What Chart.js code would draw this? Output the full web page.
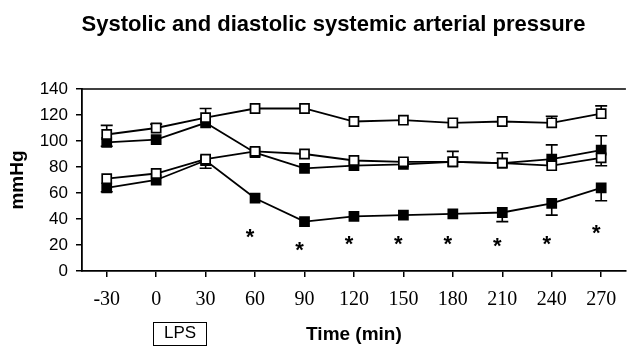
<!DOCTYPE html>
<html>
<head>
<meta charset="utf-8">
<script src="https://cdn.jsdelivr.net/npm/chart.js@4"></script>
<style>
  html, body { margin: 0; padding: 0; background: #fff; }
  #wrap { position: relative; width: 634px; height: 354px; }
  #titulo { position: absolute; left: 0; top: 11px; width: 667px; text-align: center;
            line-height: 22px; font: bold 22px "Liberation Sans", Arial, sans-serif; color: #000; }
  #lps { position: absolute; left: 153px; top: 322px; width: 52px; height: 22px;
         border: 1px solid #000; text-align: center; line-height: 22px;
         font: 17px "Liberation Sans", Arial, sans-serif; color: #000; }
</style>
</head>
<body>
<div id="wrap">
  <canvas id="grafico" width="634" height="354"></canvas>
  <div id="titulo">Systolic and diastolic systemic arterial pressure</div>
  <div id="lps">LPS</div>
</div>
<script>
const tempos = ['-30', '0', '30', '60', '90', '120', '150', '180', '210', '240', '270'];

// sistólica / diastólica, controle (aberto) e LPS (preenchido)
const sisControle = [105, 110, 118, 125, 125, 115, 116, 114, 115, 114, 121];
const sisLps      = [99, 101, 114, 91, 79, 81, 82, 84, 83, 86, 93];
const diaControle = [71, 75, 86, 92, 90, 85, 84, 84, 83, 81, 87];
const diaLps      = [64, 70, 85, 56, 38, 42, 43, 44, 45, 52, 64];

// barras de erro (para cima / para baixo), 0 = sem barra
const sisControleErrUp = [7, 3, 7, 0, 0, 0, 0, 0, 0, 5, 6];
const sisLpsErrUp      = [0, 0, 0, 0, 0, 0, 0, 0, 0, 11, 11];
const sisLpsErrDown    = [3, 0, 0, 0, 0, 0, 0, 0, 0, 0, 0];
const diaControleErrUp   = [0, 0, 0, 0, 0, 0, 0, 8, 8, 0, 0];
const diaControleErrDown = [0, 0, 0, 0, 0, 0, 0, 0, 0, 0, 6];
const diaLpsErrDown    = [3, 0, 6, 0, 0, 0, 0, 0, 7, 9, 10];

// asteriscos de significância
const asteriscoTempos = ['60', '90', '120', '150', '180', '210', '240', '270'];
const asteriscoValores = [29, 19, 24, 24, 24, 22, 24, 32];

const errosPorSerie = [
    { serie: sisControle, up: sisControleErrUp, down: null },
    { serie: diaControle, up: diaControleErrUp, down: diaControleErrDown },
    { serie: sisLps, up: sisLpsErrUp, down: sisLpsErrDown },
    { serie: diaLps, up: null, down: diaLpsErrDown }
];

const barrasErro = {
    id: 'barrasErro',
    beforeDatasetsDraw(chart) {
        const { ctx, scales: { x, y } } = chart;
        ctx.save();
        ctx.strokeStyle = '#000';
        ctx.lineWidth = 1.6;
        errosPorSerie.forEach(e => {
            e.serie.forEach((v, i) => {
                const px = x.getPixelForValue(i);
                const desenha = (delta) => {
                    const py = y.getPixelForValue(v + delta);
                    ctx.beginPath();
                    ctx.moveTo(px, y.getPixelForValue(v));
                    ctx.lineTo(px, py);
                    ctx.moveTo(px - 6, py);
                    ctx.lineTo(px + 6, py);
                    ctx.stroke();
                };
                if (e.up && e.up[i]) desenha(e.up[i]);
                if (e.down && e.down[i]) desenha(-e.down[i]);
            });
        });
        ctx.restore();
    },
    afterDatasetsDraw(chart) {
        const { ctx, chartArea, scales: { x, y } } = chart;
        ctx.save();
        // linha de cima da moldura
        ctx.strokeStyle = '#000';
        ctx.lineWidth = 1.5;
        ctx.beginPath();
        ctx.moveTo(chartArea.left, chartArea.top);
        ctx.lineTo(chartArea.right, chartArea.top);
        ctx.stroke();
        // asteriscos
        ctx.fillStyle = '#000';
        ctx.font = 'bold 22px "Liberation Sans", Arial, sans-serif';
        ctx.textAlign = 'center';
        ctx.textBaseline = 'middle';
        asteriscoTempos.forEach((t, i) => {
            const px = x.getPixelForValue(tempos.indexOf(t)) - 5;
            const py = y.getPixelForValue(asteriscoValores[i]) + 5;
            ctx.fillText('*', px, py);
        });
        ctx.restore();
    }
};

function serie(dados, cheio) {
    return {
        data: dados,
        borderColor: '#000',
        borderWidth: 1.8,
        pointStyle: 'rect',
        pointRadius: 6.4,
        pointBorderWidth: 1.7,
        pointBorderColor: '#000',
        pointBackgroundColor: cheio ? '#000' : '#fff',
        tension: 0
    };
}

new Chart(document.getElementById('grafico').getContext('2d'), {
    type: 'line',
    data: {
        labels: tempos,
        datasets: [
            serie(sisControle, false),
            serie(diaControle, false),
            serie(sisLps, true),
            serie(diaLps, true)
        ]
    },
    options: {
        responsive: false,
        animation: false,
        layout: { padding: { top: 89, right: -4, left: 0, bottom: 0 } },
        plugins: { legend: { display: false }, tooltip: { enabled: false } },
        scales: {
            x: {
                offset: true,
                grid: { drawOnChartArea: false, tickLength: 6, color: '#000', lineWidth: 1.5 },
                border: { color: '#000', width: 1.8 },
                ticks: { color: '#000', padding: 11, maxRotation: 0, autoSkip: false,
                         font: { family: '"Liberation Serif", "Times New Roman", serif', size: 20 } },
                title: { display: true, text: 'Time (min)', color: '#000',
                         padding: { top: 0, bottom: 8 },
                         font: { family: '"Liberation Sans", Arial, sans-serif', size: 19, weight: 'bold' } },
                afterFit(scale) { scale.height = 83; }
            },
            y: {
                min: 0, max: 140,
                grid: { drawOnChartArea: false, tickLength: 6, color: '#000', lineWidth: 1.5 },
                border: { color: '#000', width: 1.8 },
                ticks: { stepSize: 20, color: '#000', padding: 8,
                         font: { family: '"Liberation Sans", Arial, sans-serif', size: 17 } },
                title: { display: true, text: 'mmHg', color: '#000',
                         padding: { top: 6, bottom: 0 },
                         font: { family: '"Liberation Sans", Arial, sans-serif', size: 19, weight: 'bold' } },
                afterFit(scale) { scale.width = 82; }
            }
        }
    },
    plugins: [barrasErro]
});
</script>
</body>
</html>
